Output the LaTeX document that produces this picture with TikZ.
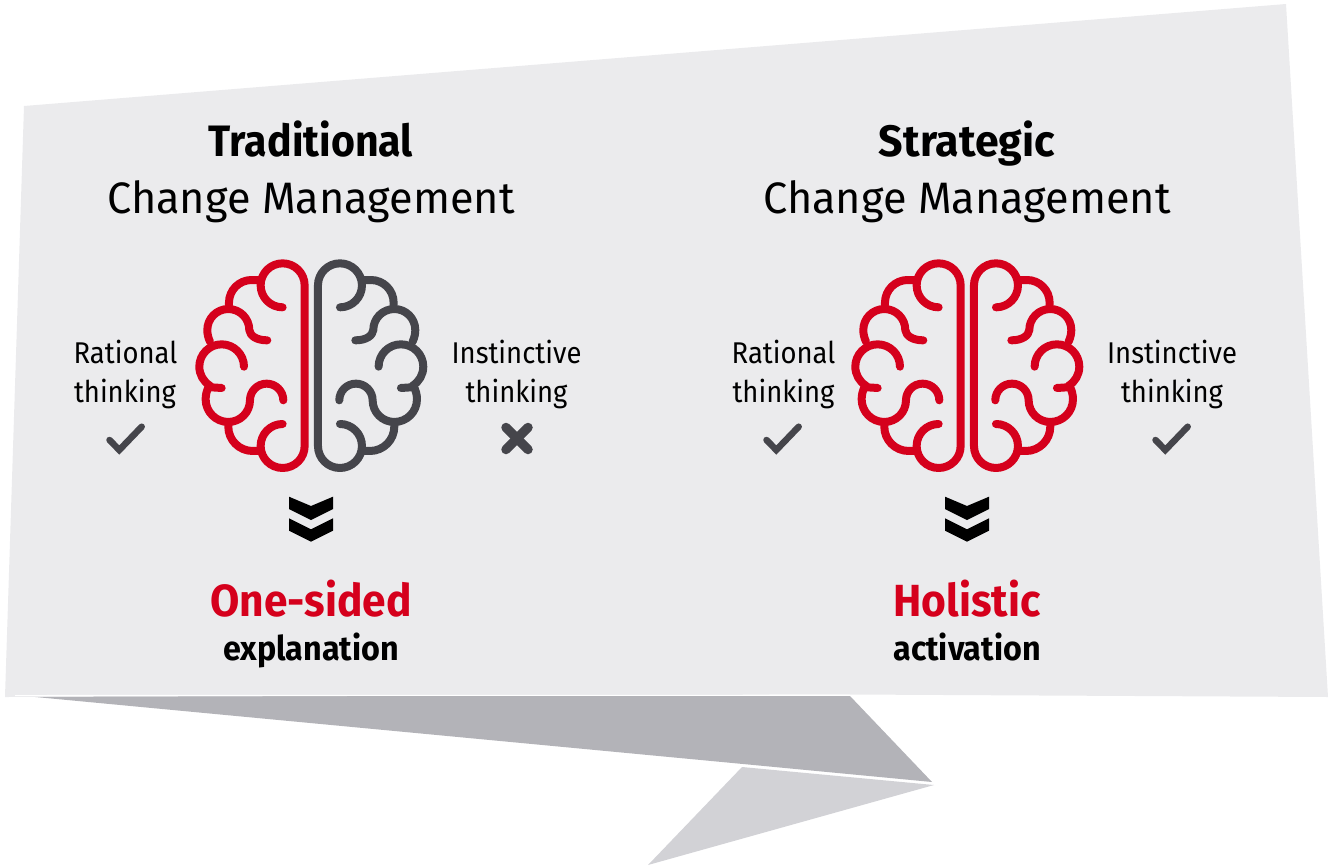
\documentclass[tikz,border=0pt]{standalone}
\usepackage{fontspec}
\setmainfont{Fira Sans}
\newfontfamily\ftitle[FakeStretch=0.983]{Fira Sans}
\newfontfamily\ftitleb[FakeStretch=0.933,BoldFont={Fira Sans Bold}]{Fira Sans}
\newfontfamily\ftitlec[FakeStretch=0.975,BoldFont={Fira Sans Bold}]{Fira Sans}
\newfontfamily\fside[FakeStretch=0.915]{Fira Sans}
\newfontfamily\fres[FakeStretch=0.944]{Fira Sans}
\newfontfamily\fsub[FakeStretch=0.95]{Fira Sans}
\definecolor{panelbg}{HTML}{EBEBED}
\definecolor{fold}{HTML}{B3B3B8}
\definecolor{foldlight}{HTML}{D2D2D6}
\definecolor{brred}{HTML}{D5001C}
\definecolor{brdark}{HTML}{45454B}
\tikzset{
  lobe/.style={line width=8pt,line cap=round,line join=round},
  title/.style={anchor=base,inner sep=0pt,font=\ftitle\fontsize{44}{44}\selectfont,text=black},
  titleb/.style={anchor=base,inner sep=0pt,font=\ftitleb\fontsize{44}{44}\selectfont\bfseries,text=black},
  titlec/.style={anchor=base,inner sep=0pt,font=\ftitlec\fontsize{44}{44}\selectfont\bfseries,text=black},
  side/.style={anchor=base,inner sep=0pt,font=\fside\fontsize{30}{30}\selectfont,text=black},
  result/.style={anchor=base,inner sep=0pt,font=\fres\fontsize{45}{45}\selectfont\bfseries,text=brred},
  subres/.style={anchor=base,inner sep=0pt,font=\fsub\fontsize{34}{34}\selectfont\bfseries,text=black},
  tick/.style={line width=6.5pt,line cap=round,line join=miter,draw=brdark},
  crossm/.style={line width=9.5pt,line cap=round,draw=brdark}
}
\newcommand{\brainhalf}[3]{%
\begin{scope}[shift={(#1,250)},xscale=#2,x=0.3333pt,y=-0.3333pt]
 \draw[lobe,draw=#3] (-86,172) arc[start angle=90,end angle=360,radius=66] -- (-20,588) arc[start angle=0,end angle=270,radius=66];
 \draw[lobe,draw=#3] (-152,90) -- (-179,90) arc[start angle=270,end angle=180,radius=68] -- (-247,165);
 \draw[lobe,draw=#3] (-304,275) .. controls (-310,262) and (-312,250) .. (-312,240) arc[start angle=180,end angle=360,radius=63] .. controls (-184,257) and (-165,271) .. (-132,271);
 \draw[lobe,draw=#3] (-202,350) arc[start angle=0,end angle=-238.5,radius=67];
 \draw[lobe,draw=#3] (-269,414) -- (-300,412);
 \draw[lobe,draw=#3] (-306,408) .. controls (-314,420) and (-317,435) .. (-317,448) arc[start angle=180,end angle=90,radius=68] arc[start angle=90,end angle=0,radius=65] arc[start angle=180,end angle=360,radius=50];
 \draw[lobe,draw=#3] (-249,516) -- (-249,530) arc[start angle=180,end angle=90,radius=73] -- (-152,603);
\end{scope}}
\newcommand{\chev}[1]{%
\begin{scope}[shift={(#1,0)}]
 \fill[black] (-22,496.7) -- (0,506) -- (22,496.7) -- (22,509) -- (0,520) -- (-22,509) -- cycle;
 \fill[black] (-22,518.3) -- (0,529.3) -- (22,518.3) -- (22,530.7) -- (0,541.7) -- (-22,530.7) -- cycle;
\end{scope}}
\newcommand{\tickm}[1]{\draw[tick,shift={(#1,0)}] (-16.5,440) -- (-6.7,450) -- (15.7,426.7);}
\begin{document}
\begin{tikzpicture}[x=1pt,y=-1pt]
\useasboundingbox (0,0) rectangle (1330,865);
% speech bubble
\fill[fold] (25,696) -- (850,696) -- (932,782) -- (743,764) -- cycle;
\fill[foldlight] (742,767) -- (934,785) -- (648,865) -- cycle;
\fill[panelbg] (24,106) -- (1286,4) -- (1328,697) -- (850,694.5) -- (5,697) -- cycle;
\draw[white,line width=1pt] (15,695.5) -- (850,695.2);
% titles
\node[titleb] (t1) at (311,156.5) {Traditional};
\node[title] (t2) at (311,213) {Change Management};
\node[titlec] (t3) at (967,156.5) {Strategic};
\node[title] (t4) at (967,213) {Change Management};
% brains
\brainhalf{311.3}{1}{brred}
\brainhalf{311.3}{-1}{brdark}
\brainhalf{967.3}{1}{brred}
\brainhalf{967.3}{-1}{brred}
% side labels
\node[side] (r1) at (125.5,363) {Rational};
\node[side] (r2) at (125,402) {thinking};
\node[side] (i1) at (516.5,363) {Instinctive};
\node[side] (i2) at (516.5,402) {thinking};
\node[side] (r3) at (783.5,363) {Rational};
\node[side] (r4) at (783.5,402) {thinking};
\node[side] (i3) at (1172,363) {Instinctive};
\node[side] (i4) at (1172,402) {thinking};
% marks
\tickm{126}
\tickm{783}
\tickm{1172}
\draw[crossm] (506,427.5) -- (528,449.5);
\draw[crossm] (528,427.5) -- (506,449.5);
% chevrons
\chev{311}
\chev{967}
% results
\node[result] (o1) at (311,616) {One-sided};
\node[subres] (o2) at (311,660) {explanation};
\node[result] (h1) at (967,616) {Holistic};
\node[subres] (h2) at (967,660) {activation};
\end{tikzpicture}
\end{document}
